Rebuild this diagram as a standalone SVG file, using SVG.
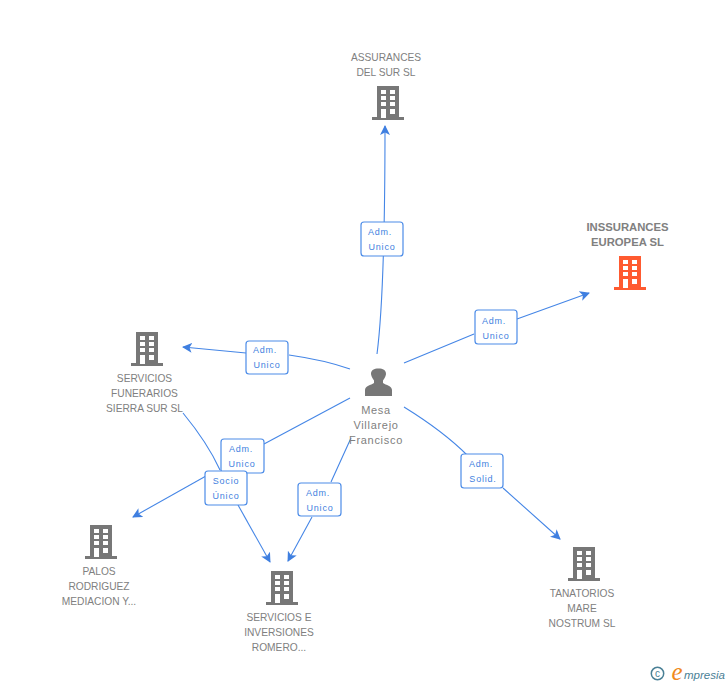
<svg xmlns="http://www.w3.org/2000/svg" width="728" height="685" viewBox="0 0 728 685">
<style>
text{font-family:"Liberation Sans",Arial,sans-serif}
.n{font-size:10.2px;fill:#808080;text-anchor:middle}
.b{font-size:11.3px;font-weight:bold;fill:#808080;text-anchor:middle}
.p{font-size:11px;fill:#808080;text-anchor:middle;letter-spacing:.7px}
.c{fill:none;stroke:#4586e6;stroke-width:1.1}
.l{fill:#fff;stroke:#4c8ce8;stroke-width:1.2}
.t{font-size:9px;fill:#3f7fe0;text-anchor:middle;letter-spacing:.8px}
</style>
<defs>
<marker id="a" markerWidth="11" markerHeight="10" refX="9" refY="5" orient="auto" markerUnits="userSpaceOnUse"><path d="M0 0L10 5L0 10L2.5 5Z" fill="#3f7fe0"/></marker>
<path id="bld" fill-rule="evenodd" d="M5 0H27V31H32V34H0V31H5ZM9 4V8H14V4ZM18 4V8H23V4ZM9 10V14H14V10ZM18 10V14H23V10ZM9 16V20H14V16ZM18 16V20H23V16ZM9 23V32H14V23ZM18 23V28H23V23Z"/>
</defs>
<g id="connectors">
<path class="c" marker-end="url(#a)" d="M377 354C384 300 385 190 385 126"/>
<path class="c" marker-end="url(#a)" d="M404 363L474 334M517 319L589 293"/>
<path class="c" marker-end="url(#a)" d="M350 369C330 362 310 358 289 355M246 353L183 347"/>
<path class="c" d="M350 398L264 444"/>
<path class="c" marker-end="url(#a)" d="M206 476L133 517"/>
<path class="c" d="M183 413C197 430 210 448 220 470"/>
<path class="c" marker-end="url(#a)" d="M238 505L270 562"/>
<path class="c" marker-end="url(#a)" d="M351 438L331 482M312 517L288 561"/>
<path class="c" marker-end="url(#a)" d="M404 407C425 420 450 438 467 455M503 488L560 539"/>
</g>
<g id="label-assurances"><rect class="l" x="361" y="222" width="42" height="34" rx="3"/><text class="t" x="380" y="235">Adm.</text><text class="t" x="382" y="250">Unico</text></g>
<g id="label-inssurances"><rect class="l" x="475" y="310" width="42" height="34" rx="3"/><text class="t" x="494" y="324">Adm.</text><text class="t" x="496" y="339">Unico</text></g>
<g id="label-funerarios"><rect class="l" x="246" y="341" width="42" height="33" rx="3"/><text class="t" x="265" y="353">Adm.</text><text class="t" x="267" y="368">Unico</text></g>
<g id="label-adm-palos"><rect class="l" x="221" y="439" width="43" height="34" rx="3"/><text class="t" x="241" y="452">Adm.</text><text class="t" x="242" y="467">Unico</text></g>
<g id="label-socio"><rect class="l" x="205" y="471" width="42" height="34" rx="3"/><text class="t" x="226" y="484">Socio</text><text class="t" x="226" y="499">Único</text></g>
<g id="label-adm-romero"><rect class="l" x="298" y="483" width="43" height="33" rx="3"/><text class="t" x="318" y="496">Adm.</text><text class="t" x="320" y="511">Unico</text></g>
<g id="label-solid"><rect class="l" x="461" y="454" width="42" height="34" rx="3"/><text class="t" x="481" y="467">Adm.</text><text class="t" x="483" y="482">Solid.</text></g>
<g id="node-assurances"><text class="n" x="386" y="61">ASSURANCES</text><text class="n" x="386" y="76">DEL SUR SL</text><use href="#bld" x="372" y="86" fill="#777"/></g>
<g id="node-inssurances"><text class="b" x="627.500" y="231">INSSURANCES</text><text class="b" x="627.500" y="246">EUROPEA SL</text><use href="#bld" x="614" y="256" fill="#ff5a30"/></g>
<g id="node-funerarios"><use href="#bld" x="131" y="332" fill="#777"/><text class="n" x="144.500" y="382">SERVICIOS</text><text class="n" x="144.500" y="397">FUNERARIOS</text><text class="n" x="144.500" y="412">SIERRA SUR SL</text></g>
<g id="node-palos"><use href="#bld" x="85" y="525" fill="#777"/><text class="n" x="99" y="575">PALOS</text><text class="n" x="99" y="590">RODRIGUEZ</text><text class="n" x="99" y="605">MEDIACION Y...</text></g>
<g id="node-romero"><use href="#bld" x="266" y="571" fill="#777"/><text class="n" x="279" y="621">SERVICIOS E</text><text class="n" x="279" y="636">INVERSIONES</text><text class="n" x="279" y="651">ROMERO...</text></g>
<g id="node-tanatorios"><use href="#bld" x="568" y="547" fill="#777"/><text class="n" x="582" y="597">TANATORIOS</text><text class="n" x="582" y="612">MARE</text><text class="n" x="582" y="627">NOSTRUM SL</text></g>
<g id="node-mesa"><path fill="#777" d="M365 396V390C365 386 371 385 374 383V380.500C372 378 371 375 371 374C371 370 374 368.500 378.500 368.500C383 368.500 386 370 386 374C386 375 385 378 383 380.500V383C386 385 392 386 392 390V396Z"/><text class="p" x="376" y="414">Mesa</text><text class="p" x="376" y="429">Villarejo</text><text class="p" x="376" y="444">Francisco</text></g>
<g id="brand"><circle cx="657.500" cy="673.500" r="6.200" fill="none" stroke="#4a8096" stroke-width="1.500"/><text x="657.500" y="677" font-size="10" fill="#4a8096" text-anchor="middle">c</text><text x="671.500" y="680" font-size="25" font-style="italic" fill="#f08a1d" style="font-family:'Liberation Serif',serif">e</text><text x="684" y="679" font-size="11.500" font-style="italic" fill="#4a8096">mpresia</text></g>
</svg>
